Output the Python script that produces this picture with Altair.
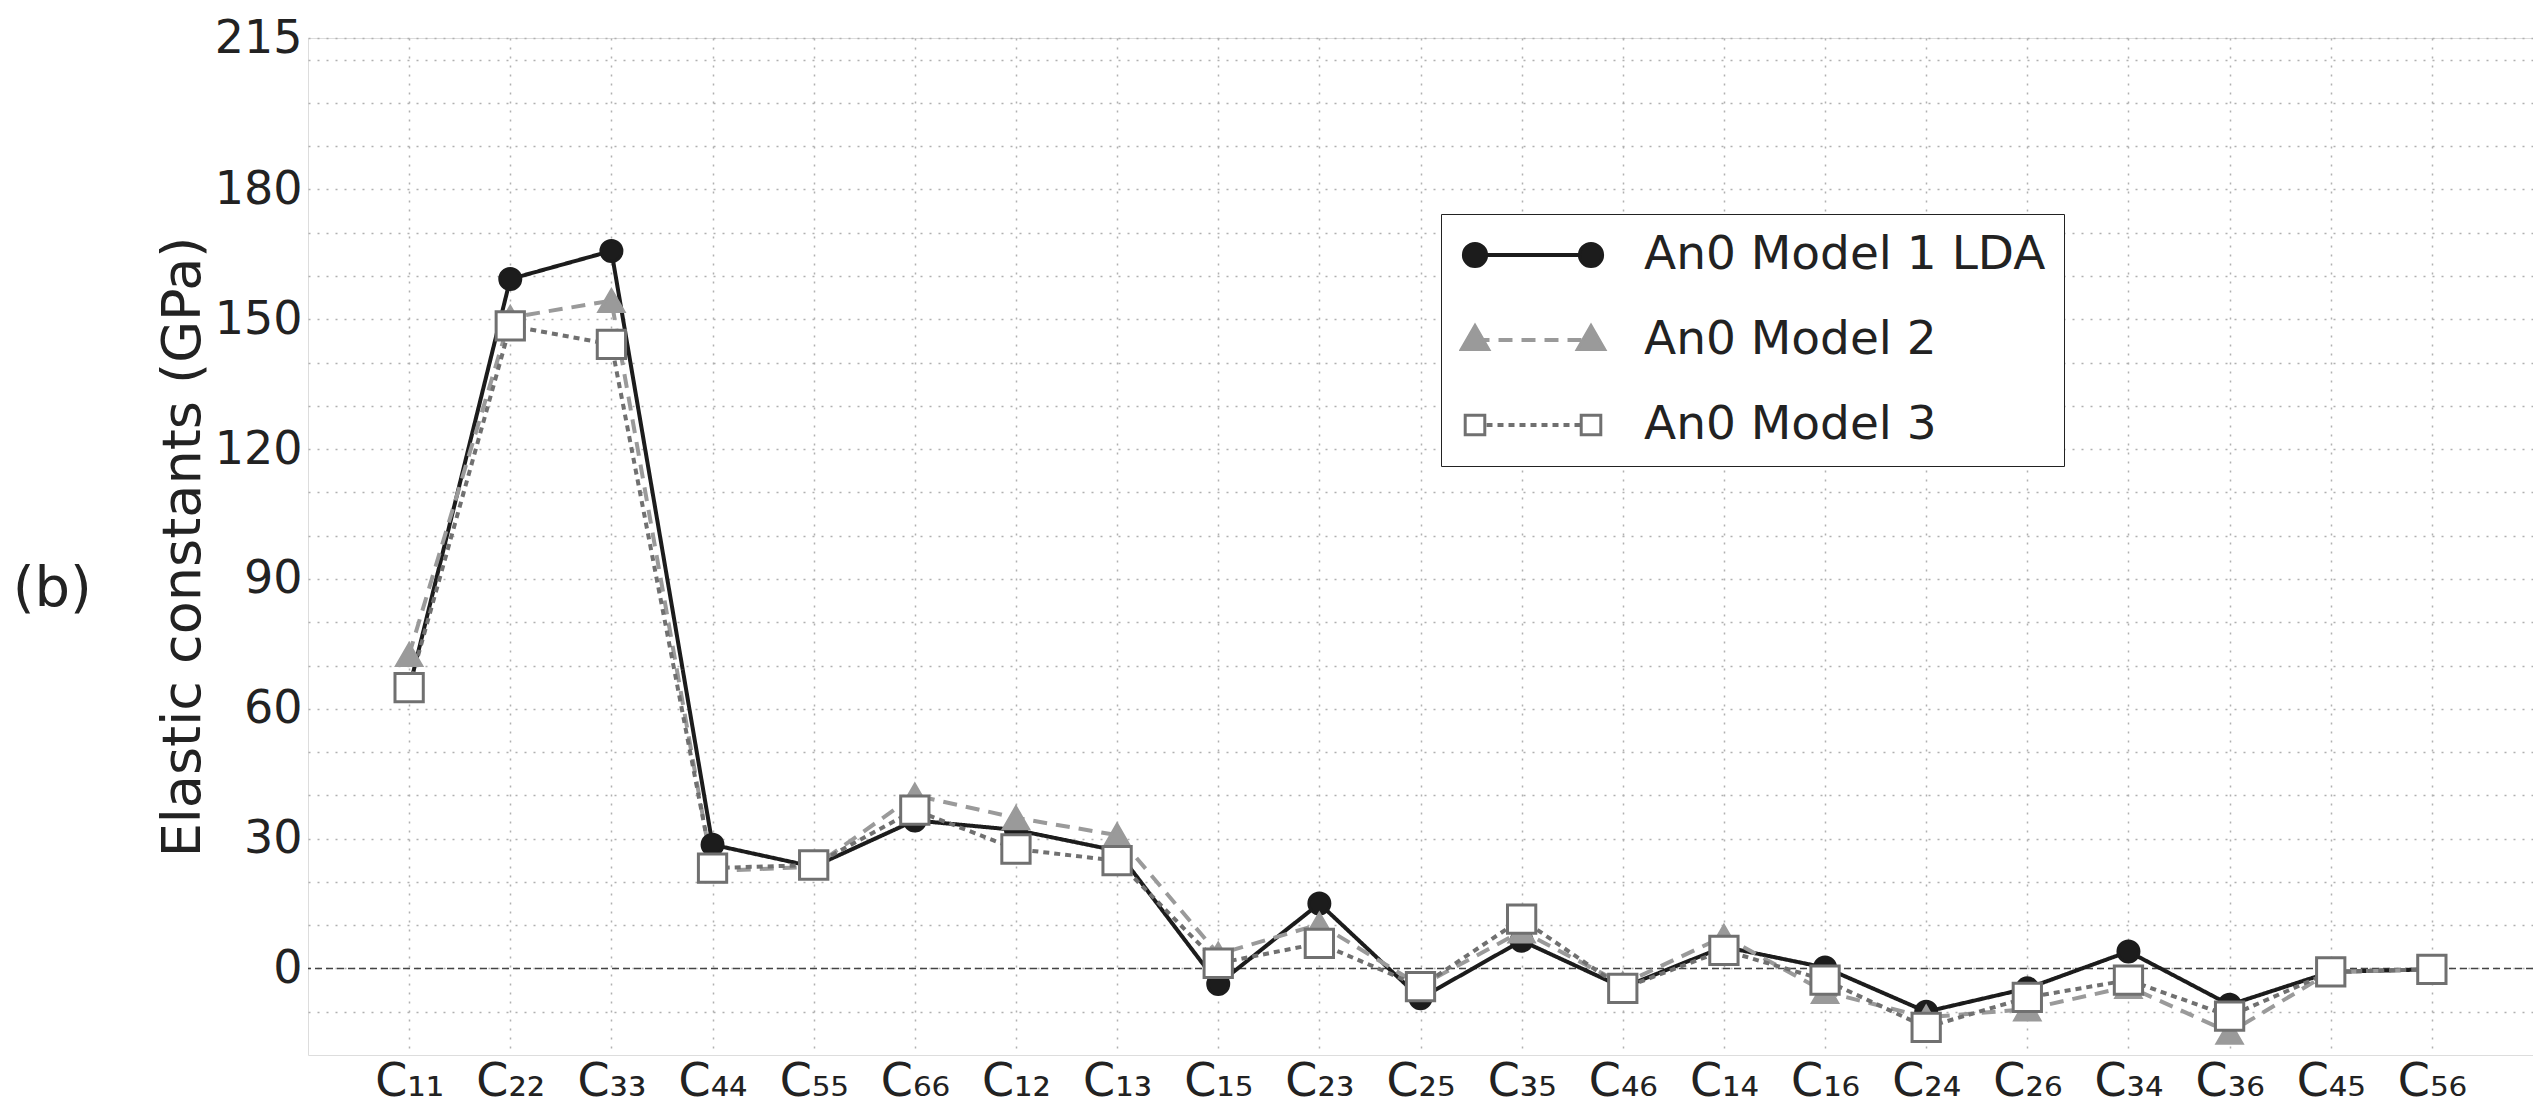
import altair as alt
import pandas as pd

categories = ["C₁₁", "C₂₂", "C₃₃", "C₄₄", "C₅₅", "C₆₆", "C₁₂", "C₁₃", "C₁₅", "C₂₃", "C₂₅",
              "C₃₅", "C₄₆", "C₁₄", "C₁₆", "C₂₄", "C₂₆", "C₃₄", "C₃₆", "C₄₅", "C₅₆"]
models = ["An0 Model 1 LDA", "An0 Model 2", "An0 Model 3"]
model1 = [64.6, 159.3, 165.8, 28.6, 23.5, 34.2, 32.0, 27.2, -3.6, 15.0, -6.9, 6.4, -4.4, 5.0, 0.2,
          -10.0, -4.6, 3.9, -8.4, -0.8, -0.2]
model2 = [72.5, 150.4, 154.3, 22.5, 23.5, 40.0, 34.8, 30.8, 3.3, 10.2, -4.0, 8.6, -3.6, 7.4, -5.4,
          -11.3, -9.4, -4.2, -14.8, -0.8, -0.2]
model3 = [64.9, 148.5, 144.2, 23.2, 23.9, 36.6, 27.6, 24.9, 1.2, 5.8, -4.2, 11.4, -4.6, 4.2, -2.7,
          -13.6, -6.7, -2.7, -11.0, -0.8, -0.2]
y_label_values = [0, 30, 60, 90, 120, 150, 180, 215]
y_grid_values = list(range(-10, 211, 10)) + [215]

rows = []
for m, vals in zip(models, [model1, model2, model3]):
    for i, (c, v) in enumerate(zip(categories, vals)):
        rows.append({"cat": c, "idx": i, "model": m, "lk": m, "value": v})
df = pd.DataFrame(rows)

FONT = "DejaVu Sans"
line_colors = ["#1c1c1c", "#9a9a9a", "#707070"]
marker_fill = ["#1c1c1c", "#9a9a9a", "#ffffff"]
marker_stroke = ["#1c1c1c", "#9a9a9a", "#707070"]

# legend symbol geometry (unit coordinates, scaled by sqrt(size)/2)
R = 72.5
SYM_SIZE = (2 * R) ** 2


def f(v):
    return f"{v:.3f}"


BOUNDS = "M-1.04,-0.2M1.04,0.2"


def circ(cx, r=0.16):
    return (f"M{f(cx - r)},0A{f(r)},{f(r)} 0 1,0 {f(cx + r)},0"
            f"A{f(r)},{f(r)} 0 1,0 {f(cx - r)},0Z")


def tri(cx, hw=0.19, top=-0.2, bot=0.13):
    return f"M{f(cx)},{f(top)}L{f(cx + hw)},{f(bot)}L{f(cx - hw)},{f(bot)}Z"


def sq(cx, h=0.135):
    return (f"M{f(cx - h)},{f(-h)}L{f(cx + h)},{f(-h)}L{f(cx + h)},{f(h)}"
            f"L{f(cx - h)},{f(h)}Z")


path_line = BOUNDS + "M-0.8,0L0.8,0"
path_c = BOUNDS + circ(-0.8) + circ(0.8)
path_t = BOUNDS + tri(-0.8) + tri(0.8)
path_s = BOUNDS + sq(-0.8) + sq(0.8)

LX, LY = 1133, 176
common_leg = dict(title=None, orient="none", legendX=LX, legendY=LY, symbolSize=SYM_SIZE,
                  labelFontSize=47, labelFont=FONT, labelOffset=36, labelLimit=0,
                  rowPadding=38, padding=18, clipHeight=46)

legA = alt.Legend(symbolType=path_line, symbolStrokeWidth=4, labelColor="#222",
                  fillColor="white", strokeColor="#222", zindex=1, **common_leg)
legB = alt.Legend(symbolStrokeWidth=3, labelOpacity=0, zindex=2, **common_leg)

x_enc = alt.X("cat:N", sort=categories, scale=alt.Scale(type="point", padding=1),
              axis=alt.Axis(title=None, labelFontSize=46, labelFont=FONT, labelColor="#222",
                            labelPadding=4, labelAngle=0, ticks=False, domain=False, grid=True,
                            gridDash=[2, 7], gridColor="#b0b0b0", gridWidth=1.5))
y_enc = alt.Y("value:Q", scale=alt.Scale(domain=[-20, 215], nice=False, zero=False),
              axis=alt.Axis(title="Elastic constants (GPa)", titleFontSize=54, titleFont=FONT,
                            titleFontWeight="normal", titleColor="#222", titlePadding=4,
                            values=y_grid_values,
                            labelExpr="indexof([0,30,60,90,120,150,180,215], datum.value) >= 0 ? datum.label : ''",
                            labelFontSize=46, labelFont=FONT, labelColor="#222", labelPadding=6,
                            ticks=False, domain=False, grid=True, gridDash=[2, 7],
                            gridColor="#b0b0b0", gridWidth=1.5))

zero = alt.Chart(pd.DataFrame({"v": [0]})).mark_rule(
    color="#444", strokeDash=[7, 4], strokeWidth=1.5).encode(y="v:Q")

lines = alt.Chart(df).mark_line(strokeWidth=4).encode(
    x=x_enc, y=y_enc,
    color=alt.Color("model:N", scale=alt.Scale(domain=models, range=line_colors), legend=legA),
    strokeDash=alt.StrokeDash("model:N", scale=alt.Scale(domain=models,
                                                         range=[[1, 0], [14, 9], [6, 5]]),
                              legend=legA),
    order=alt.Order("idx:Q"),
)

points = alt.Chart(df).mark_point(filled=True, opacity=1, strokeWidth=3).encode(
    x=x_enc, y=y_enc,
    shape=alt.Shape("model:N", scale=alt.Scale(domain=models,
                                               range=["circle", "triangle-up", "square"]),
                    legend=None),
    fill=alt.Fill("model:N", scale=alt.Scale(domain=models, range=marker_fill), legend=None),
    stroke=alt.Stroke("model:N", scale=alt.Scale(domain=models, range=marker_stroke),
                      legend=None),
    size=alt.Size("model:N", scale=alt.Scale(domain=models, range=[440, 800, 420]), legend=None),
)

legend_layer = alt.Chart(df).transform_filter("false").mark_point(
    filled=True, opacity=1, strokeWidth=3).encode(
    x=x_enc, y=y_enc,
    shape=alt.Shape("lk:N", scale=alt.Scale(domain=models, range=[path_c, path_t, path_s]),
                    legend=legB),
    fill=alt.Fill("lk:N", scale=alt.Scale(domain=models, range=marker_fill), legend=legB),
    stroke=alt.Stroke("lk:N", scale=alt.Scale(domain=models, range=marker_stroke),
                      legend=legB),
)

chart = alt.layer(zero, lines, points, legend_layer).resolve_scale(
    shape="independent", fill="independent", stroke="independent", size="independent"
).properties(
    width=2225, height=1017,
    autosize=alt.AutoSizeParams(type="none"),
    padding={"left": 300, "top": 30, "right": 0, "bottom": 52},
    title=alt.TitleParams("(b)", orient="left", angle=0, anchor="middle", align="right",
                          baseline="middle", fontSize=56, font=FONT, fontWeight="normal",
                          color="#222", offset=-15, dy=42),
).configure_view(stroke="#222", strokeWidth=2.5).configure_legend(
    strokeWidth=2.5).configure(background="white")

chart.save("out.html", embed_options={"renderer": "svg", "actions": False})
